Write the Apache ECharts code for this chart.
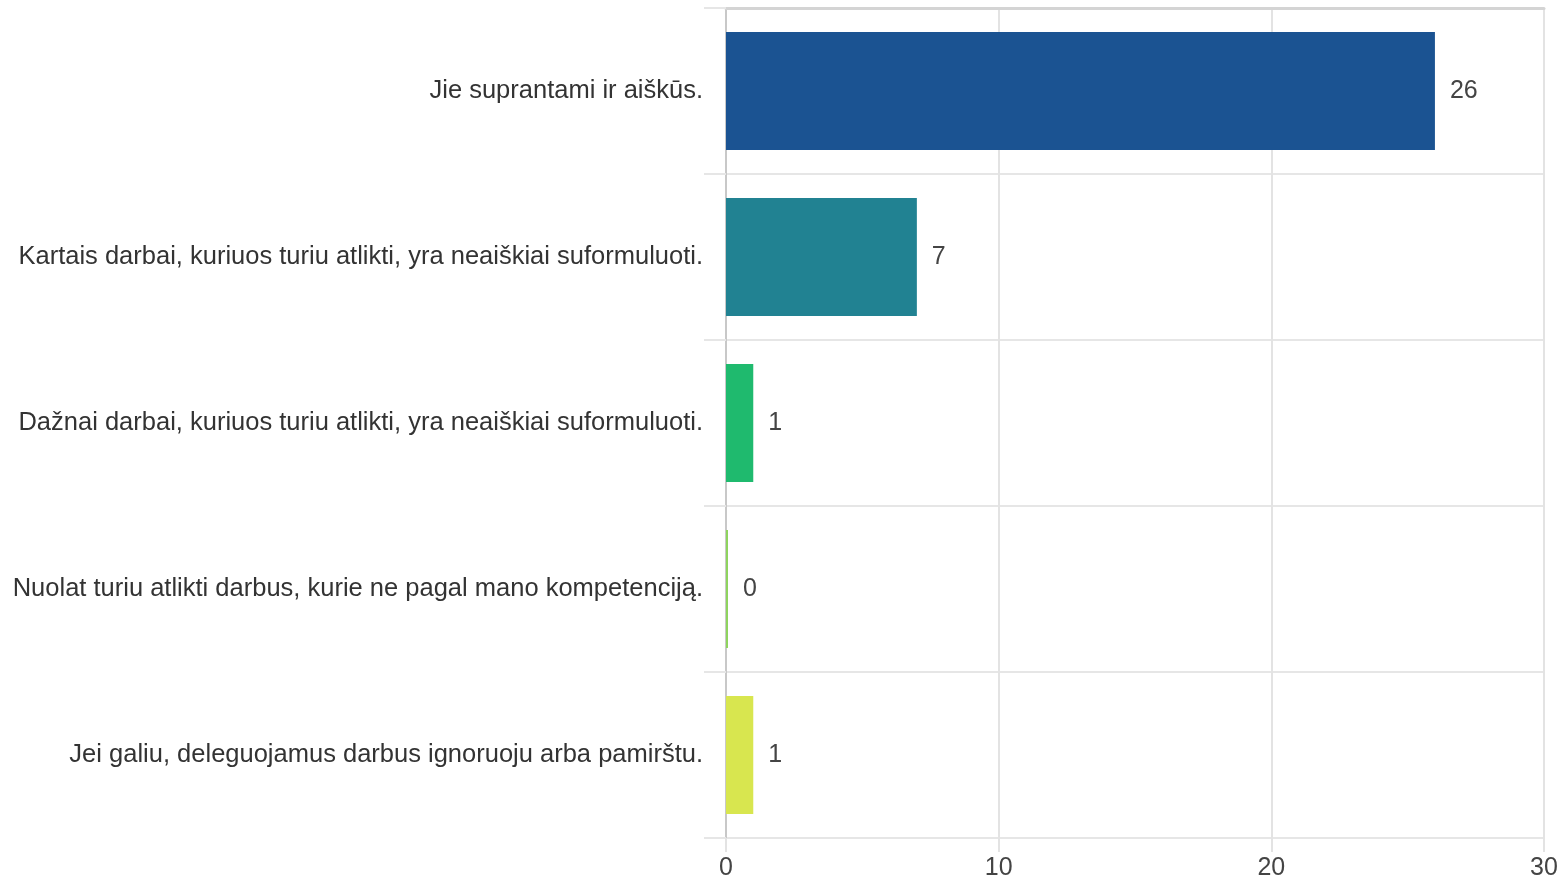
<!DOCTYPE html>
<html>
<head>
<meta charset="utf-8">
<script src="https://cdn.jsdelivr.net/npm/echarts@6/dist/echarts.min.js"></script>
<style>
  html, body { margin: 0; padding: 0; background: #fff; }
  #chart { width: 1566px; height: 882px; }
</style>
</head>
<body>
<div id="chart"></div>
<script>
var categories = [
  'Jie suprantami ir aiškūs.',
  'Kartais darbai, kuriuos turiu atlikti, yra neaiškiai suformuluoti.',
  'Dažnai darbai, kuriuos turiu atlikti, yra neaiškiai suformuluoti.',
  'Nuolat turiu atlikti darbus, kurie ne pagal mano kompetenciją.',
  'Jei galiu, deleguojamus darbus ignoruoju arba pamirštu.'
];
var values = [26, 7, 1, 0, 1];
var barColors = ['#1b5392', '#218292', '#1fba6e', '#8fd45e', '#d8e64f'];

var chart = echarts.init(document.getElementById('chart'));
var fontFamily = '"Liberation Sans", Arial, sans-serif';

chart.setOption({
  animation: false,
  grid: { left: 726, right: 22, top: 8, bottom: 44, containLabel: false },
  xAxis: [{
    type: 'value',
    min: 0,
    max: 30,
    interval: 10,
    axisLine: { show: false },
    axisTick: { show: true, length: 14, lineStyle: { color: '#e3e3e3', width: 2 } },
    axisLabel: { margin: 18, color: '#444', fontSize: 25, fontFamily: fontFamily },
    splitLine: { show: true, lineStyle: { color: '#e3e3e3', width: 2 } }
  }, {
    type: 'value',
    position: 'top',
    min: 0,
    max: 30,
    axisLine: { show: true, lineStyle: { color: '#d4d4d4', width: 3 } },
    axisTick: { show: false },
    axisLabel: { show: false },
    splitLine: { show: false }
  }],
  yAxis: {
    type: 'category',
    inverse: true,
    data: categories,
    axisLine: { show: true, lineStyle: { color: '#c8c8c8', width: 2 } },
    axisTick: { show: true, length: 22, lineStyle: { color: '#e6e6e6', width: 2 } },
    axisLabel: { margin: 23, color: '#333', fontSize: 25.5, fontFamily: fontFamily },
    splitLine: { show: true, lineStyle: { color: '#e6e6e6', width: 2 } }
  },
  series: [{
    type: 'bar',
    data: values.map(function(v, i) {
      return { value: v, itemStyle: { color: barColors[i] } };
    }),
    barCategoryGap: '29%',
    barMinHeight: 2,
    label: {
      show: true,
      position: 'right',
      distance: 15,
      color: '#444',
      fontSize: 25,
      fontFamily: fontFamily
    }
  }]
});
</script>
</body>
</html>
